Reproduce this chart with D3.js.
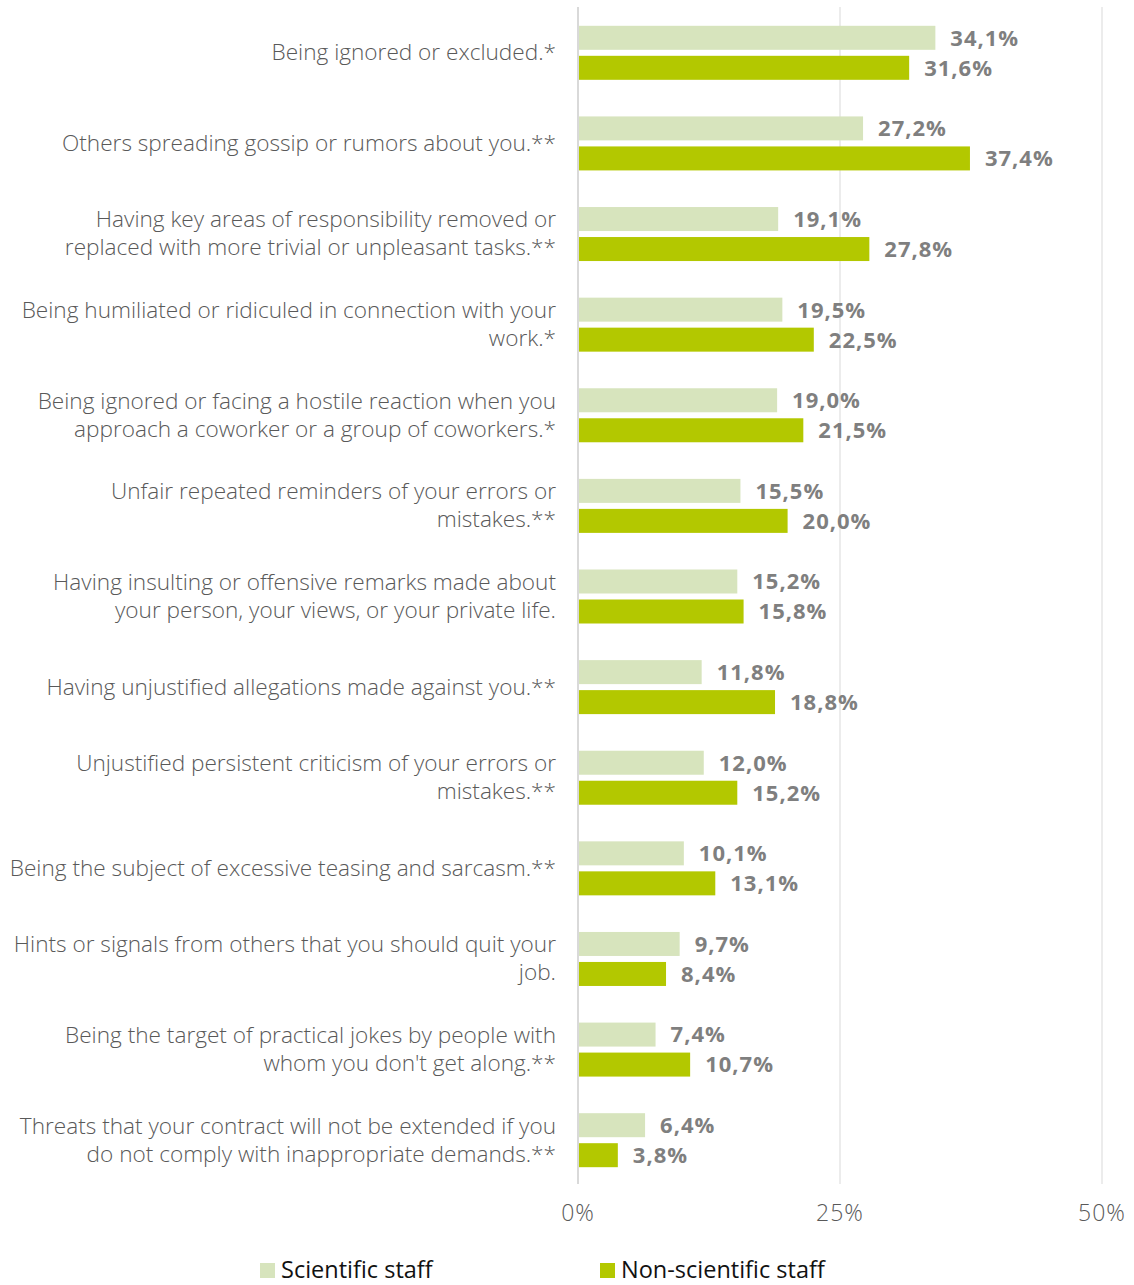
<!DOCTYPE html>
<html><head><meta charset="utf-8">
<script src="https://cdn.jsdelivr.net/npm/d3@7"></script>
<style>html,body{margin:0;padding:0;background:#fff;}</style>
</head><body>
<svg id="chart" width="1134" height="1285"></svg>
<script>
const categories = [
  ["Being ignored or excluded.*"],
  ["Others spreading gossip or rumors about you.**"],
  ["Having key areas of responsibility removed or", "replaced with more trivial or unpleasant tasks.**"],
  ["Being humiliated or ridiculed in connection with your", "work.*"],
  ["Being ignored or facing a hostile reaction when you", "approach a coworker or a group of coworkers.*"],
  ["Unfair repeated reminders of your errors or", "mistakes.**"],
  ["Having insulting or offensive remarks made about", "your person, your views, or your private life."],
  ["Having unjustified allegations made against you.**"],
  ["Unjustified persistent criticism of your errors or", "mistakes.**"],
  ["Being the subject of excessive teasing and sarcasm.**"],
  ["Hints or signals from others that you should quit your", "job."],
  ["Being the target of practical jokes by people with", "whom you don't get along.**"],
  ["Threats that your contract will not be extended if you", "do not comply with inappropriate demands.**"]
];
const scientific = [34.1, 27.2, 19.1, 19.5, 19.0, 15.5, 15.2, 11.8, 12.0, 10.1, 9.7, 7.4, 6.4];
const nonScientific = [31.6, 37.4, 27.8, 22.5, 21.5, 20.0, 15.8, 18.8, 15.2, 13.1, 8.4, 10.7, 3.8];
const ticks = [0, 25, 50];
const seriesNames = ["Scientific staff", "Non-scientific staff"];
const colors = ["#d7e4bd", "#b3c800"];

const svg = d3.select("#chart");
const font = "'Open Sans', 'Noto Sans', sans-serif";
const x = d3.scaleLinear().domain([0, 50]).range([578, 1102]);
const y = d3.scaleBand().domain(d3.range(categories.length)).range([7, 1185]);

// gridlines
svg.append("g").selectAll("line").data(ticks).join("line")
  .attr("x1", d => x(d)).attr("x2", d => x(d))
  .attr("y1", 7).attr("y2", 1184)
  .attr("stroke", d => d === 0 ? "#d9d9d9" : "#ececec")
  .attr("stroke-width", 2);

// tick labels
svg.append("g").selectAll("text").data(ticks).join("text")
  .attr("x", d => x(d)).attr("y", 1213)
  .attr("dy", "0.36em")
  .attr("text-anchor", "middle")
  .attr("font-family", font).attr("font-size", 23).attr("font-weight", 300)
  .attr("letter-spacing", 1)
  .attr("fill", "#595959")
  .text(d => d + "%");

const barH = 24;
const series = [scientific, nonScientific];
series.forEach((vals, s) => {
  const g = svg.append("g");
  const yy = i => y(i) + y.bandwidth() / 2 + (s === 0 ? -26.5 : 3.5);
  g.selectAll("rect").data(vals).join("rect")
    .attr("x", x(0) + 1)
    .attr("y", (d, i) => yy(i))
    .attr("width", d => x(d) - x(0) - 1)
    .attr("height", barH)
    .attr("fill", colors[s]);
  g.selectAll("text").data(vals).join("text")
    .attr("x", d => x(d) + 15)
    .attr("y", (d, i) => yy(i) + barH / 2)
    .attr("dy", "0.36em")
    .attr("font-family", font).attr("font-size", 22).attr("font-weight", "bold")
    .attr("letter-spacing", 1)
    .attr("fill", "#7f7f7f")
    .text(d => d.toFixed(1).replace(".", ",") + "%");
});

// category labels
const lab = svg.append("g");
categories.forEach((lines, i) => {
  const cy = y(i) + y.bandwidth() / 2;
  const t = lab.append("text")
    .attr("x", 556).attr("text-anchor", "end")
    .attr("font-family", font).attr("font-size", 22.6).attr("font-weight", 300)
    .attr("fill", "#595959");
  lines.forEach((ln, j) => {
    t.append("tspan").attr("x", 556)
      .attr("y", cy + (j - (lines.length - 1) / 2) * 28)
      .attr("dy", "0.35em")
      .text(ln);
  });
});

// legend
const legX = [260, 600];
const leg = svg.append("g");
seriesNames.forEach((n, i) => {
  leg.append("rect").attr("x", legX[i]).attr("y", 1263).attr("width", 15).attr("height", 15).attr("fill", colors[i]);
  leg.append("text").attr("x", legX[i] + 21).attr("y", 1278)
    .attr("font-family", font).attr("font-size", 23.5).attr("fill", "#111")
    .text(n);
});
</script>
</body></html>
